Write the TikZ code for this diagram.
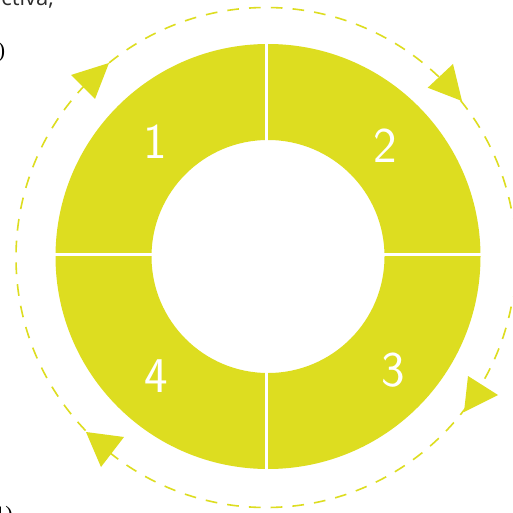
\documentclass[tikz,border=0pt]{standalone}
\usepackage{fontspec}
\newfontfamily\frametext{Open Sans}
\newfontfamily\frameserif{Liberation Serif}
\definecolor{ylw}{RGB}{221,221,32}
\definecolor{darktext}{RGB}{45,45,45}
\begin{document}
\begin{tikzpicture}[x=1pt,y=-1pt,
  ringfill/.style={fill=ylw},
  divider/.style={draw=white,line width=3pt},
  cyclepath/.style={draw=ylw,line width=1.6pt,dash pattern=on 11.7pt off 10.1pt,dash phase=15.97pt},
  cyclehead/.style={fill=ylw},
  digit/.style={text=white,inner sep=0pt,font=\sffamily\fontsize{50}{50}\selectfont},
  fragsans/.style={text=darktext,inner sep=0pt,font=\frametext\fontsize{22}{22}\selectfont},
  fragserif/.style={text=black,inner sep=0pt,font=\frameserif\fontsize{22}{22}\selectfont}]
\useasboundingbox (0,0) rectangle (512,513);
\clip (0,0) rectangle (512,513);
\fill[white] (0,0) rectangle (512,513);
% dashed cycle
\draw[cyclepath] (266,257.5) circle[radius=250];
% ring
\path[ringfill,even odd rule] (268,256.5) circle[radius=212.5] (268,256.5) circle[radius=116.5];
% dividers
\coordinate (vt) at (266.7,40);
\coordinate (vti) at (266.7,141);
\coordinate (vbi) at (266.7,372);
\coordinate (vb) at (266.7,472);
\coordinate (hl) at (50,254);
\coordinate (hli) at (153,254);
\coordinate (hri) at (383,254);
\coordinate (hr) at (486,254);
\draw[divider] (vt) -- (vti);
\draw[divider] (vbi) -- (vb);
\draw[divider] (hl) -- (hli);
\draw[divider] (hri) -- (hr);
% arrow heads
\fill[cyclehead] (71,75) -- (109,63) -- (95,99) -- cycle;
\fill[cyclehead] (427.7,87.7) -- (453,64) -- (462,101) -- cycle;
\fill[cyclehead] (468,376) -- (498,395) -- (464,412) -- cycle;
\fill[cyclehead] (86,432) -- (124,437) -- (101,467) -- cycle;
% numbers
\node[digit] (n1) at (155,142) {1};
\node[digit] (n2) at (385,146) {2};
\node[digit] (n3) at (393,370) {3};
\node[digit] (n4) at (156,376) {4};
% cropped surrounding text
\node[fragsans,anchor=base east] (f1) at (54,6) {ctiva,};
\node[fragserif,anchor=base east] (f2) at (5.5,58) {o)};
\node[fragserif,anchor=base east] (f3) at (13,521) {1)};
\end{tikzpicture}
\end{document}
